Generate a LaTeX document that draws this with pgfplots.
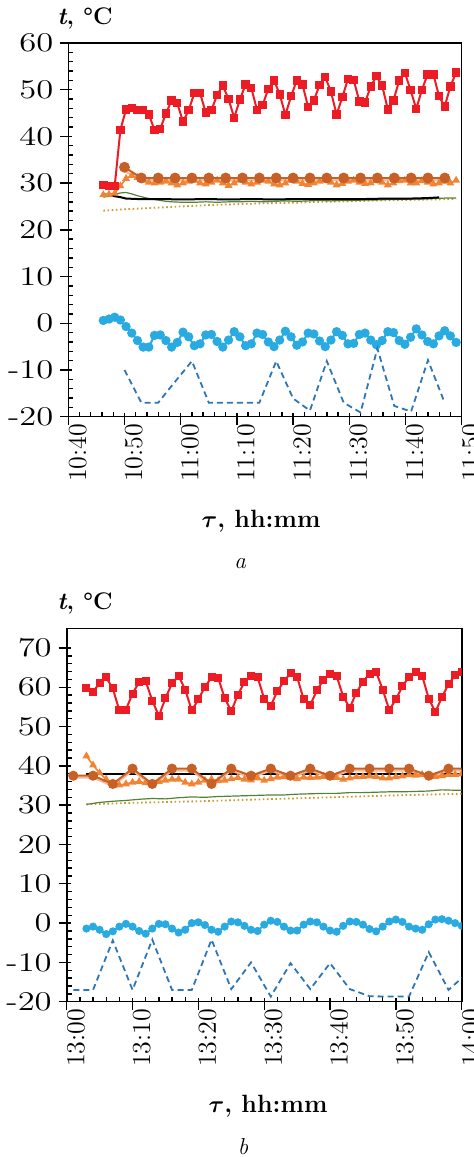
\documentclass[border=0pt]{standalone}
\usepackage{fontspec}
\usepackage{bm}
\usepackage{graphicx}
\usepackage{pgfplots}
\usepackage{pgfplotstable}
\pgfplotsset{compat=1.18}
\definecolor{cred}{RGB}{237,28,36}
\definecolor{cbrown}{RGB}{198,96,38}
\definecolor{cpale}{RGB}{244,185,150}
\definecolor{corange}{RGB}{241,131,53}
\definecolor{cgreen}{RGB}{84,130,53}
\definecolor{cgold}{RGB}{204,153,51}
\definecolor{clblue}{RGB}{41,171,226}
\definecolor{cdblue}{RGB}{46,117,182}
\newcommand{\yl}[1]{\scalebox{1.28}[1]{#1}}

\pgfplotstableread{
x r tr b
6.23 29.6 27.5 0.6
7.24 29.4 27.6 0.9
8.26 29.4 27.8 1.3
9.27 41.4 29.4 0.7
10.28 45.8 31.0 -0.7
11.29 46.1 31.6 -2.1
12.31 45.7 31.2 -3.7
13.32 45.6 30.6 -5.1
14.33 44.7 30.2 -5.1
15.34 41.4 30.0 -2.6
16.36 41.6 30.2 -2.5
17.37 44.9 30.4 -3.7
18.38 47.7 30.0 -5.1
19.39 47.1 29.6 -4.1
20.41 43.2 30.0 -1.9
21.42 45.6 30.4 -2.9
22.43 49.3 30.6 -4.8
23.44 49.3 30.0 -4.4
24.46 45.1 29.8 -2.5
25.47 45.6 30.2 -2.4
26.48 48.9 30.6 -3.9
27.49 50.9 30.0 -5.1
28.51 48.0 29.5 -3.6
29.52 44.0 30.0 -1.8
30.53 47.9 30.6 -2.9
31.54 51.1 30.2 -4.8
32.56 50.4 29.8 -4.4
33.57 45.7 30.2 -2.1
34.58 46.7 30.6 -2.4
35.59 50.2 30.4 -4.0
36.61 52.0 29.8 -5.0
37.62 49.0 29.6 -3.6
38.63 44.6 30.0 -1.7
39.64 48.6 30.6 -2.9
40.66 52.0 30.4 -4.7
41.67 51.1 29.9 -4.0
42.68 46.3 29.7 -2.1
43.69 47.7 30.0 -2.3
44.71 51.0 30.4 -3.8
45.72 52.7 30.6 -5.0
46.73 49.6 30.2 -3.6
47.74 44.7 29.6 -1.8
48.76 48.4 29.9 -2.6
49.77 52.3 30.4 -4.4
50.78 52.1 30.6 -4.3
51.79 47.5 30.2 -2.4
52.81 47.3 29.9 -2.1
53.82 50.7 30.0 -3.6
54.83 52.9 30.5 -4.6
55.84 50.9 30.2 -3.7
56.86 45.8 29.6 -1.8
57.87 47.7 30.0 -2.0
58.88 52.0 30.5 -3.7
59.89 53.6 30.6 -4.5
60.91 49.9 30.0 -3.0
61.92 45.9 30.0 -1.2
62.93 50.0 30.5 -2.5
63.94 53.3 30.2 -3.9
64.96 53.3 29.8 -4.4
65.97 48.6 30.0 -2.7
66.98 46.4 30.4 -1.6
67.99 50.7 30.0 -2.7
69.01 53.7 30.6 -4.1
}\tA

\pgfplotstableread{
x c p d
10 33.4 32.6 -10.0
13 31.1 30.6 -17.0
16 31.1 30.6 -17.0
19 31.1 30.6 -12.5
22 31.1 30.6 -8.1
25 31.1 30.6 -17.0
28 31.1 30.6 -17.0
31 31.1 30.6 -17.0
34 31.1 30.6 -17.0
37 31.1 30.6 -8.1
40 31.1 30.6 -16.1
43 31.1 30.6 -18.7
46 31.1 30.6 -8.1
49 31.1 30.6 -17.0
52 31.1 30.6 -19.1
55 31.1 30.6 -5.4
58 31.1 30.6 -17.7
61 31.1 30.6 -18.9
64 31.1 30.6 -7.9
67 31.1 30.6 -17.1
}\tAs

\pgfplotstableread{
x r tr b
3 59.7 42.5 -1.4
4 58.8 40.2 -0.9
5 61.1 38.2 -1.7
6 62.5 36.6 -2.8
7 59.7 35.0 -2.1
8 54.1 35.1 -0.9
9 54.3 35.4 -0.2
10 58.4 35.8 -0.9
11 61.3 36.0 -2.0
12 61.5 35.7 -2.7
13 56.6 35.5 -1.4
14 52.7 36.0 -0.2
15 57.2 36.3 -0.3
16 61.0 36.6 -1.4
17 62.9 36.6 -2.4
18 59.4 35.8 -1.7
19 54.1 35.4 0.0
20 56.9 35.8 0.2
21 60.1 36.3 -0.5
22 62.5 36.6 -1.7
23 62.4 36.2 -2.2
24 57.3 36.3 -0.9
25 53.9 36.7 0.4
26 58.1 37.0 0.2
27 61.3 36.6 -0.7
28 62.9 36.4 -1.7
29 62.5 36.9 -2.0
30 57.1 36.3 -0.4
31 55.3 36.7 0.6
32 59.0 37.1 0.3
33 61.5 37.2 -0.9
34 63.6 37.0 -1.9
35 62.6 36.7 -1.9
36 56.9 37.1 -0.4
37 55.5 37.0 0.4
38 59.2 37.1 0.2
39 61.9 37.3 -0.9
40 63.4 37.2 -1.9
41 62.9 37.0 -2.2
42 57.6 36.6 -0.7
43 54.8 36.9 0.4
44 58.6 37.2 0.3
45 61.4 37.3 -0.4
46 63.4 37.4 -1.5
47 63.9 37.3 -2.1
48 59.4 36.9 -0.9
49 54.2 36.9 0.4
50 56.9 37.2 0.9
51 60.3 37.4 0.3
52 62.6 37.7 -0.9
53 64.0 37.6 -1.4
54 62.9 37.8 -1.7
55 57.1 37.5 -0.3
56 53.7 37.3 0.9
57 57.5 37.5 1.0
58 60.8 37.8 0.6
59 63.0 37.8 0.0
60 64.0 37.9 -0.7
}\tB

\pgfplotstableread{
x c p d
1 37.5 37.0 -17.0
4 37.5 37.0 -17.0
7 35.4 34.9 -4.4
10 39.3 38.8 -17.0
13 35.4 34.9 -4.2
16 39.3 38.8 -17.0
19 39.3 38.8 -17.0
22 35.4 34.9 -4.2
25 39.3 38.8 -16.8
28 37.5 37.0 -10.0
31 39.3 38.8 -18.7
34 37.5 37.0 -10.2
37 39.3 38.8 -16.8
40 37.5 37.0 -10.2
43 39.3 38.8 -16.8
46 39.3 38.8 -18.6
49 39.3 38.8 -18.7
52 39.3 38.8 -18.7
55 37.5 37.0 -7.4
58 39.3 38.8 -17.0
61 39.3 38.8 -12.5
}\tBs

\pgfplotsset{
  myax/.style={
    scale only axis,
    axis line style={line width=0.8pt},
    tick style={black, line width=0.7pt},
    tick align=inside,
    major tick length=6pt,
    minor tick length=2.5pt,
    major x tick style={yshift=-4pt},
    major y tick style={xshift=-4pt},
    xtick pos=bottom, ytick pos=left,
    minor x tick num=4, minor y tick num=4,
    clip marker paths=true,
    yticklabel style={font=\fontsize{13.5}{13.5}\selectfont, xshift=-4pt},
    xticklabel style={font=\fontsize{13}{13}\selectfont, rotate=90, anchor=east, yshift=-4.6pt},
  },
  sred/.style={cred, line width=1pt, mark=square*, mark options={solid}},
  sbrown/.style={cbrown, line width=1pt, mark=*, mark options={solid}},
  spale/.style={cpale, line width=1pt, no marks},
  sorange/.style={corange, line width=0.8pt, mark=triangle*, mark size=1.5pt, mark options={solid}},
  sgreen/.style={cgreen, line width=0.6pt, no marks},
  sblack/.style={black, line width=1pt, no marks},
  sgold/.style={cgold, line width=0.9pt, dash pattern=on 0.8pt off 1.3pt, no marks},
  slblue/.style={clblue, line width=1pt, mark=*, mark options={solid}},
  sdblue/.style={cdblue, line width=0.9pt, dash pattern=on 3pt off 2pt, no marks},
}

\begin{document}
\begin{tikzpicture}
\useasboundingbox (0,0) rectangle (236.5pt,578.5pt);
% ---------- panel a ----------
\begin{axis}[myax,
  at={(34.15pt,370.15pt)}, anchor=south west,
  width=196.7pt, height=186.85pt,
  xmin=0, xmax=70, ymin=-20, ymax=60,
  xtick={0,10,...,70},
  xticklabels={10:40,10:50,11:00,11:10,11:20,11:30,11:40,11:50},
  ytick={-20,-10,...,60},
  yticklabels={\yl{-20},\yl{-10},\yl{0},\yl{10},\yl{20},\yl{30},\yl{40},\yl{50},\yl{60}},
]
\addplot[sgold] coordinates {(6.23,24.1)(10,24.4)(15,24.7)(20,25.0)(25,25.3)(30,25.5)(35,25.7)(40,25.8)(45,26.0)(50,26.1)(55,26.3)(60,26.4)(65,26.5)(69.01,26.6)};
\addplot[sgreen] coordinates {(6.23,27.0)(7.24,27.2)(8.26,27.6)(9.27,27.9)(10.28,28.0)(11.29,27.7)(12.31,27.3)(13.32,27.0)(14.33,26.7)(15.34,26.5)(16.36,26.3)(17.37,26.1)(18.38,26.0)(20.41,25.9)(22.43,25.9)(24.46,26.0)(26.48,25.9)(28.51,26.0)(30.53,26.0)(32.56,26.1)(34.58,26.0)(36.61,26.1)(38.63,26.2)(40.66,26.1)(42.68,26.2)(44.71,26.3)(46.73,26.2)(48.76,26.3)(50.78,26.3)(52.81,26.4)(54.83,26.4)(56.86,26.5)(58.88,26.5)(60.91,26.6)(62.93,26.6)(64.96,26.7)(66.98,26.8)(69.01,26.8)};
\addplot[sblack] coordinates {(6.23,27.6)(7.24,27.5)(8.26,27.2)(9.27,27.0)(10.28,26.7)(12.31,26.6)(16.36,26.6)(20.41,26.5)(24.46,26.6)(28.51,26.5)(32.56,26.6)(36.61,26.5)(40.66,26.6)(44.71,26.6)(48.76,26.6)(52.81,26.6)(56.86,26.7)(60.91,26.7)(63.94,26.8)(65.97,26.95)};
\addplot[spale] table[x=x,y=p] {\tAs};
\addplot[sorange] table[x=x,y=tr] {\tA};
\addplot[sbrown, mark size=2.2pt] table[x=x,y=c] {\tAs};
\addplot[slblue, mark size=1.8pt] table[x=x,y=b] {\tA};
\addplot[sdblue] table[x=x,y=d] {\tAs};
\addplot[sred, mark size=1.6pt] table[x=x,y=r] {\tA};
\end{axis}
% ---------- panel b ----------
\begin{axis}[myax,
  at={(33.35pt,77.65pt)}, anchor=south west,
  width=197.5pt, height=186.7pt,
  xmin=0, xmax=60, ymin=-20, ymax=75,
  xtick={0,10,...,60},
  xticklabels={13:00,13:10,13:20,13:30,13:40,13:50,14:00},
  ytick={-20,-10,...,70},
  yticklabels={\yl{-20},\yl{-10},\yl{0},\yl{10},\yl{20},\yl{30},\yl{40},\yl{50},\yl{60},\yl{70}},
]
\addplot[sgold] coordinates {(3,30.2)(10,30.6)(20,31.0)(30,31.5)(40,32.0)(50,32.5)(60,32.9)};
\addplot[sgreen] coordinates {(3,30.2)(5,30.7)(7,31.0)(9,31.2)(11,31.5)(13,31.7)(15,31.6)(17,31.9)(19,32.1)(21,32.0)(23,32.2)(25,32.3)(27,32.4)(29,32.5)(31,32.6)(33,32.6)(35,32.8)(37,32.9)(39,33.0)(41,33.0)(43,33.2)(45,33.2)(47,33.3)(49,33.4)(51,33.4)(53,33.5)(55,33.6)(57,33.9)(59,33.8)(60,33.8)};
\addplot[sblack] coordinates {(3,38.0)(60,38.0)};
\addplot[spale] table[x=x,y=p] {\tBs};
\addplot[sorange] table[x=x,y=tr] {\tB};
\addplot[sbrown, mark size=2.0pt] table[x=x,y=c] {\tBs};
\addplot[slblue, mark size=1.5pt] table[x=x,y=b] {\tB};
\addplot[sdblue] table[x=x,y=d] {\tBs};
\addplot[sred, mark size=1.5pt] table[x=x,y=r] {\tB};
\end{axis}
% ---------- labels ----------
\node[inner sep=0, font=\fontsize{12}{12}\selectfont\bfseries] at (42.5pt,569.5pt) {\textit{t}, °C};
\node[inner sep=0, font=\fontsize{12.5}{12.5}\selectfont\bfseries] at (130.5pt,317.65pt) {$\bm{\tau}$, hh:mm};
\node[inner sep=0, font=\fontsize{11.5}{11.5}\selectfont\itshape] at (120pt,296.5pt) {a};
\node[inner sep=0, font=\fontsize{12}{12}\selectfont\bfseries] at (42.5pt,277pt) {\textit{t}, °C};
\node[inner sep=0, font=\fontsize{12.5}{12.5}\selectfont\bfseries] at (134pt,25.15pt) {$\bm{\tau}$, hh:mm};
\node[inner sep=0, font=\fontsize{11.5}{11.5}\selectfont\itshape] at (121.5pt,5.2pt) {b};
\end{tikzpicture}
\end{document}
